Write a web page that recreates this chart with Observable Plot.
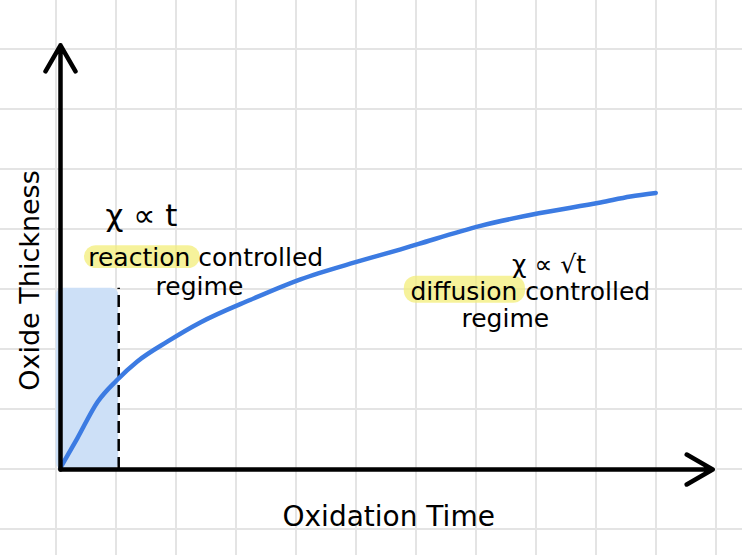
<!DOCTYPE html>
<html>
<head>
<meta charset="utf-8">
<script src="https://cdn.jsdelivr.net/npm/d3@7"></script>
<script src="https://cdn.jsdelivr.net/npm/@observablehq/plot@0.6"></script>
<style>
  html, body { margin: 0; padding: 0; background: #fff; }
  #chart {
    width: 742px; height: 555px; overflow: hidden;
    background-color: #fff;
    background-image:
      linear-gradient(to bottom, #e4e4e4 2px, transparent 2px),
      linear-gradient(to right, #e4e4e4 2px, transparent 2px);
    background-size: 60px 60px;
    background-position: 55px 48px;
  }
  #chart svg { display: block; }
</style>
</head>
<body>
<div id="chart"></div>
<script>
// Oxidation time (arbitrary units) vs oxide thickness (arbitrary units)
const curveTime      = [0, 0.28, 0.62, 0.93, 1.28, 1.78, 2.33, 3.17, 4.0, 4.83, 5.18, 5.67, 5.97, 7.0, 7.97, 9.0, 9.5, 9.92];
const curveThickness = [0.03, 0.52, 1.13, 1.48, 1.8, 2.13, 2.45, 2.83, 3.17, 3.43, 3.53, 3.67, 3.76, 4.06, 4.27, 4.45, 4.55, 4.61];

// Reaction-controlled regime band
const regimeStart = -0.07;
const regimeEnd = 0.97;
const regimeTop = 3.02;

// Axis extents
const axisTimeMax = 10.87;
const axisThicknessMax = 7.07;

// Annotation labels (multi-line blocks)
const labelTexts = [
  "χ ∝ t",
  "reaction controlled\nregime\u2002",
  "\u2002\u2002\u2002χ ∝ √t\ndiffusion controlled\nregime\u2002\u2002\u2002\u2002"
];
const labelTime   = [0.75, 2.42, 7.83];
const labelThick  = [4.23, 3.31, 2.97];
const labelAnchor = ["start", "middle", "middle"];
const labelLineHeight = [1, 1.16, 1.07];
const labelSize = [31, 25, 25];

// Highlighted words
const highlightWords = ["reaction", "diffusion"];
const highlightX1 = [0.4, 5.73];
const highlightX2 = [2.33, 7.75];
const highlightY1 = [3.35, 2.77];
const highlightY2 = [3.73, 3.22];

const xLabel = "Oxidation Time";
const yLabel = "Oxide Thickness";

const curve = curveTime.map((t, i) => ({t, v: curveThickness[i]}));
const labels = labelTexts.map((s, i) => ({s, t: labelTime[i], v: labelThick[i]}));
const highlights = highlightWords.map((w, i) => ({w, x1: highlightX1[i], x2: highlightX2[i], y1: highlightY1[i], y2: highlightY2[i]}));
const axes = [
  {x1: 0, y1: 0, x2: axisTimeMax, y2: 0},
  {x1: 0, y1: 0, x2: 0, y2: axisThicknessMax}
];

const font = "'DejaVu Sans', sans-serif";

const chart = Plot.plot({
  width: 742,
  height: 555,
  marginTop: 0, marginRight: 0, marginBottom: 0, marginLeft: 0,
  style: {background: "transparent", fontFamily: font},
  x: {domain: [0, 10], range: [60, 660], axis: null},
  y: {domain: [0, 7], range: [469, 49], axis: null},
  marks: [
    Plot.rect([{x1: regimeStart, x2: regimeEnd, y1: 0, y2: regimeTop}], {
      x1: "x1", x2: "x2", y1: "y1", y2: "y2", fill: "#cde0f7", rx: 7
    }),
    Plot.ruleX([regimeEnd], {y1: 0, y2: regimeTop, stroke: "#000", strokeWidth: 2.5, strokeDasharray: "12,6"}),
    Plot.rect(highlights, {x1: "x1", x2: "x2", y1: "y1", y2: "y2", fill: "#f3ee7a", fillOpacity: 0.75, rx: 12}),
    Plot.line(curve, {x: "t", y: "v", stroke: "#3c7be2", strokeWidth: 4.5, curve: "monotone-x", strokeLinecap: "round"}),
    Plot.arrow(axes, {x1: "x1", y1: "y1", x2: "x2", y2: "y2", stroke: "#000", strokeWidth: 4.5, headLength: 10, headAngle: 60, strokeLinecap: "round", strokeLinejoin: "round"}),
    ...labels.map((d, i) => Plot.text([d], {
      x: "t", y: "v", text: "s", textAnchor: labelAnchor[i], lineHeight: labelLineHeight[i],
      fontSize: labelSize[i], fill: "#000", fontFamily: font
    })),
    Plot.text([xLabel], {x: 5.47, y: -0.8, text: d => d, fontSize: 28, fill: "#000", fontFamily: font}),
    Plot.text([yLabel], {x: -0.5, y: 3.15, text: d => d, rotate: -90, fontSize: 27, fill: "#000", fontFamily: font})
  ]
});

document.getElementById("chart").appendChild(chart);
</script>
</body>
</html>
